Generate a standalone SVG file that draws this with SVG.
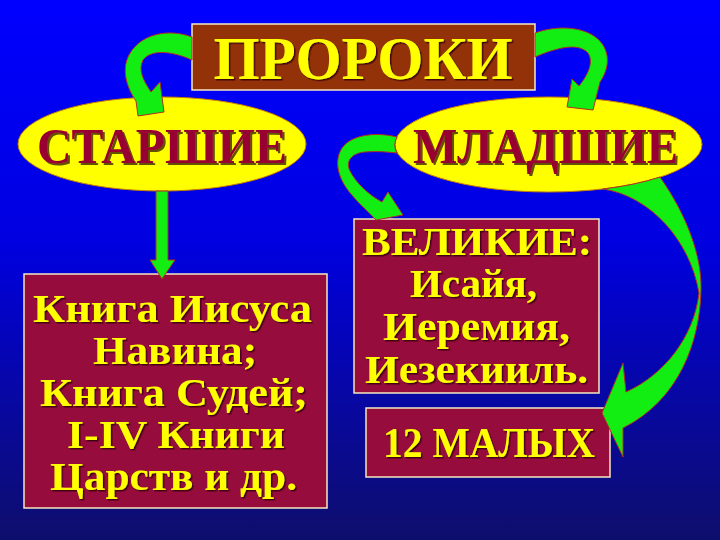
<svg xmlns="http://www.w3.org/2000/svg" width="720" height="540" viewBox="0 0 720 540">
<defs>
<linearGradient id="bg" x1="0" y1="0" x2="0" y2="1">
<stop offset="0" stop-color="#0000ff"/>
<stop offset="0.45" stop-color="#0000e0"/>
<stop offset="1" stop-color="#0e0e6c"/>
</linearGradient>
<filter id="sh" x="-5%" y="-20%" width="115%" height="150%">
<feDropShadow dx="2" dy="2" stdDeviation="0.4" flood-color="#4a3000" flood-opacity="0.85"/>
</filter>
<filter id="sh2" x="-5%" y="-20%" width="115%" height="150%">
<feDropShadow dx="1.5" dy="1.5" stdDeviation="0.4" flood-color="#3a0010" flood-opacity="0.9"/>
</filter>
</defs>
<style>
.box{stroke:#f5e8c0;stroke-width:1.5}
.title{fill:#933208}
.mar{fill:#960c3c}
.ell{fill:#ffff00;stroke:#c88000;stroke-width:1}
.yt{font-family:"Liberation Serif","Times New Roman",serif;font-weight:bold;fill:#ffff00;text-anchor:middle;filter:url(#sh2)}
.rt{font-family:"Liberation Serif","Times New Roman",serif;font-weight:bold;fill:#990033;text-anchor:middle;filter:url(#sh)}
.arr{fill:#12ee12;stroke:#b03020;stroke-width:1;stroke-linejoin:round}
</style>
<rect x="0" y="0" width="720" height="540" fill="url(#bg)"/>

<g id="node-proroki">
<rect class="box title" x="192" y="24" width="343" height="66"/>
<text class="yt" x="363" y="79" font-size="61" textLength="299" lengthAdjust="spacingAndGlyphs">ПРОРОКИ</text>
</g>

<g id="node-starshie">
<ellipse class="ell" cx="162" cy="144" rx="144" ry="47"/>
<text class="rt" x="162" y="163" font-size="50" textLength="250" lengthAdjust="spacingAndGlyphs">СТАРШИЕ</text>
</g>

<g id="node-mladshie">
<ellipse class="ell" cx="548.5" cy="144.5" rx="153.5" ry="47.5"/>
<text class="rt" x="545.5" y="163" font-size="50" textLength="265" lengthAdjust="spacingAndGlyphs">МЛАДШИЕ</text>
</g>

<g id="node-books">
<rect class="box mar" x="24" y="274" width="303" height="234"/>
<text class="yt" x="172.5" y="322" font-size="40" textLength="279" lengthAdjust="spacingAndGlyphs">Книга Иисуса</text>
<text class="yt" x="175" y="364" font-size="40" textLength="164" lengthAdjust="spacingAndGlyphs">Навина;</text>
<text class="yt" x="174" y="406" font-size="40" textLength="268" lengthAdjust="spacingAndGlyphs">Книга Судей;</text>
<text class="yt" x="176" y="448" font-size="40" textLength="218" lengthAdjust="spacingAndGlyphs">I-IV Книги</text>
<text class="yt" x="173.5" y="490" font-size="40" textLength="247" lengthAdjust="spacingAndGlyphs">Царств и др.</text>
</g>

<g id="node-velikie">
<rect class="box mar" x="354" y="219" width="245" height="174"/>
<text class="yt" x="477" y="255" font-size="40" textLength="230" lengthAdjust="spacingAndGlyphs">ВЕЛИКИЕ:</text>
<text class="yt" x="473.5" y="297" font-size="40" textLength="127" lengthAdjust="spacingAndGlyphs">Исайя,</text>
<text class="yt" x="476.5" y="340" font-size="40" textLength="187" lengthAdjust="spacingAndGlyphs">Иеремия,</text>
<text class="yt" x="476.5" y="383" font-size="40" textLength="223" lengthAdjust="spacingAndGlyphs">Иезекииль.</text>
</g>

<g id="node-malye">
<rect class="box mar" x="366" y="408" width="244" height="69"/>
<text class="yt" x="489" y="457" font-size="42" textLength="212" lengthAdjust="spacingAndGlyphs">12 МАЛЫХ</text>
</g>

<g id="connectors">
<path class="arr" d="M156,191 L168,191 L168,260 L175,260 L162,279 L150,260 L156,260 Z"/>
<path class="arr" d="M192,37 C168,28 140,34 129,55 C121,70 127,88 136,101 L138,116 L164,112 L160,82 L151,92 C143,80 138,70 143,60 C151,49 172,51 192,60 Z"/>
<path class="arr" d="M535,33 C556,25 590,25 603,45 C611,58 607,72 600,82 L593,110 L567,107 L572,79 L579,86 C588,75 594,62 588,53 C578,42 556,48 535,57 Z"/>
<path class="arr" d="M397,153 A153.5,47.5 0 0 1 397,137 C377,132 352,134 342,148 C333,162 339,180 351,194 C359,204 369,212 376,220 L403,215 L388,192 L382,202 C369,195 356,183 350,171 C345,161 352,153 365,152 C377,151 388,152 397,153 Z"/>
<path class="arr" d="M603,189 A153.5,47.5 0 0 0 660,177 C686,214 702,255 701,290 C700,342 679,400 623,428 L623,457 L602,413 L623,363 L626,392 C664,375 694,337 699,293 C690,240 650,196 603,189 Z"/>
</g>
</svg>
